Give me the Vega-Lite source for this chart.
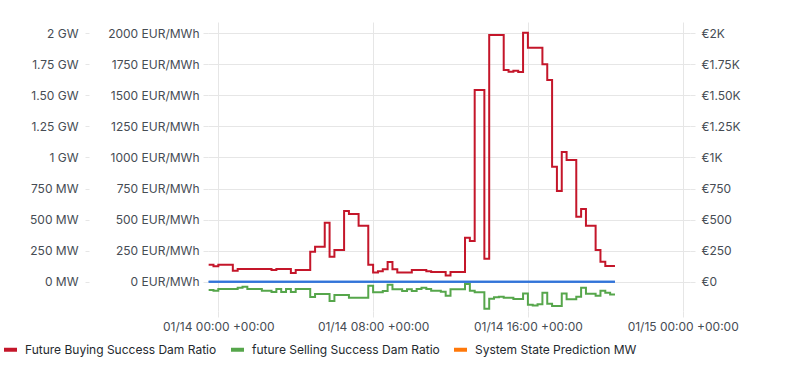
{
  "$schema": "https://vega.github.io/schema/vega-lite/v6.json",
  "width": 482,
  "height": 289,
  "autosize": {"type": "none"},
  "padding": {"left": 208, "top": 22, "right": 121, "bottom": 55},
  "background": "white",
  "config": {
    "font": "Inter",
    "view": {"stroke": null},
    "axis": {
      "labelFont": "Inter",
      "labelFontSize": 12,
      "labelColor": "#464c54",
      "domain": false,
      "tickColor": "#e6e6e6",
      "gridColor": "#e6e6e6",
      "title": null
    },
    "legend": {
      "labelFont": "Inter",
      "labelFontSize": 12,
      "labelColor": "#24292e",
      "labelLimit": 400,
      "symbolType": "stroke",
      "symbolStrokeWidth": 4,
      "symbolSize": 169,
      "labelOffset": 6,
      "columnPadding": 6,
      "padding": 0
    }
  },
  "datasets": {
    "series": [
      {"t": "2025-01-13T23:30:00Z", "v": 137, "s": "Future Buying Success Dam Ratio"},
      {"t": "2025-01-13T23:45:00Z", "v": 124, "s": "Future Buying Success Dam Ratio"},
      {"t": "2025-01-14T00:00:00Z", "v": 137, "s": "Future Buying Success Dam Ratio"},
      {"t": "2025-01-14T00:45:00Z", "v": 89, "s": "Future Buying Success Dam Ratio"},
      {"t": "2025-01-14T01:00:00Z", "v": 102, "s": "Future Buying Success Dam Ratio"},
      {"t": "2025-01-14T02:45:00Z", "v": 94, "s": "Future Buying Success Dam Ratio"},
      {"t": "2025-01-14T03:00:00Z", "v": 102, "s": "Future Buying Success Dam Ratio"},
      {"t": "2025-01-14T03:45:00Z", "v": 70, "s": "Future Buying Success Dam Ratio"},
      {"t": "2025-01-14T04:00:00Z", "v": 94, "s": "Future Buying Success Dam Ratio"},
      {"t": "2025-01-14T04:45:00Z", "v": 242, "s": "Future Buying Success Dam Ratio"},
      {"t": "2025-01-14T05:00:00Z", "v": 282, "s": "Future Buying Success Dam Ratio"},
      {"t": "2025-01-14T05:30:00Z", "v": 475, "s": "Future Buying Success Dam Ratio"},
      {"t": "2025-01-14T05:45:00Z", "v": 201, "s": "Future Buying Success Dam Ratio"},
      {"t": "2025-01-14T06:00:00Z", "v": 255, "s": "Future Buying Success Dam Ratio"},
      {"t": "2025-01-14T06:30:00Z", "v": 569, "s": "Future Buying Success Dam Ratio"},
      {"t": "2025-01-14T06:45:00Z", "v": 545, "s": "Future Buying Success Dam Ratio"},
      {"t": "2025-01-14T07:15:00Z", "v": 451, "s": "Future Buying Success Dam Ratio"},
      {"t": "2025-01-14T07:45:00Z", "v": 137, "s": "Future Buying Success Dam Ratio"},
      {"t": "2025-01-14T08:00:00Z", "v": 74, "s": "Future Buying Success Dam Ratio"},
      {"t": "2025-01-14T08:15:00Z", "v": 85, "s": "Future Buying Success Dam Ratio"},
      {"t": "2025-01-14T08:30:00Z", "v": 100, "s": "Future Buying Success Dam Ratio"},
      {"t": "2025-01-14T08:45:00Z", "v": 158, "s": "Future Buying Success Dam Ratio"},
      {"t": "2025-01-14T09:00:00Z", "v": 100, "s": "Future Buying Success Dam Ratio"},
      {"t": "2025-01-14T09:15:00Z", "v": 74, "s": "Future Buying Success Dam Ratio"},
      {"t": "2025-01-14T10:00:00Z", "v": 94, "s": "Future Buying Success Dam Ratio"},
      {"t": "2025-01-14T10:45:00Z", "v": 84, "s": "Future Buying Success Dam Ratio"},
      {"t": "2025-01-14T11:00:00Z", "v": 78, "s": "Future Buying Success Dam Ratio"},
      {"t": "2025-01-14T11:45:00Z", "v": 50, "s": "Future Buying Success Dam Ratio"},
      {"t": "2025-01-14T12:00:00Z", "v": 78, "s": "Future Buying Success Dam Ratio"},
      {"t": "2025-01-14T12:45:00Z", "v": 354, "s": "Future Buying Success Dam Ratio"},
      {"t": "2025-01-14T13:00:00Z", "v": 328, "s": "Future Buying Success Dam Ratio"},
      {"t": "2025-01-14T13:15:00Z", "v": 1543, "s": "Future Buying Success Dam Ratio"},
      {"t": "2025-01-14T13:45:00Z", "v": 185, "s": "Future Buying Success Dam Ratio"},
      {"t": "2025-01-14T14:00:00Z", "v": 1986, "s": "Future Buying Success Dam Ratio"},
      {"t": "2025-01-14T14:45:00Z", "v": 1704, "s": "Future Buying Success Dam Ratio"},
      {"t": "2025-01-14T15:00:00Z", "v": 1691, "s": "Future Buying Success Dam Ratio"},
      {"t": "2025-01-14T15:15:00Z", "v": 1699, "s": "Future Buying Success Dam Ratio"},
      {"t": "2025-01-14T15:30:00Z", "v": 1688, "s": "Future Buying Success Dam Ratio"},
      {"t": "2025-01-14T15:45:00Z", "v": 2005, "s": "Future Buying Success Dam Ratio"},
      {"t": "2025-01-14T16:00:00Z", "v": 1884, "s": "Future Buying Success Dam Ratio"},
      {"t": "2025-01-14T16:45:00Z", "v": 1750, "s": "Future Buying Success Dam Ratio"},
      {"t": "2025-01-14T17:00:00Z", "v": 1624, "s": "Future Buying Success Dam Ratio"},
      {"t": "2025-01-14T17:15:00Z", "v": 926, "s": "Future Buying Success Dam Ratio"},
      {"t": "2025-01-14T17:30:00Z", "v": 730, "s": "Future Buying Success Dam Ratio"},
      {"t": "2025-01-14T17:45:00Z", "v": 1044, "s": "Future Buying Success Dam Ratio"},
      {"t": "2025-01-14T18:00:00Z", "v": 980, "s": "Future Buying Success Dam Ratio"},
      {"t": "2025-01-14T18:30:00Z", "v": 523, "s": "Future Buying Success Dam Ratio"},
      {"t": "2025-01-14T18:45:00Z", "v": 585, "s": "Future Buying Success Dam Ratio"},
      {"t": "2025-01-14T19:00:00Z", "v": 451, "s": "Future Buying Success Dam Ratio"},
      {"t": "2025-01-14T19:30:00Z", "v": 255, "s": "Future Buying Success Dam Ratio"},
      {"t": "2025-01-14T19:45:00Z", "v": 161, "s": "Future Buying Success Dam Ratio"},
      {"t": "2025-01-14T20:00:00Z", "v": 126, "s": "Future Buying Success Dam Ratio"},
      {"t": "2025-01-14T20:30:00Z", "v": 126, "s": "Future Buying Success Dam Ratio"},
      {"t": "2025-01-13T23:30:00Z", "v": -67, "s": "future Selling Success Dam Ratio"},
      {"t": "2025-01-13T23:45:00Z", "v": -72, "s": "future Selling Success Dam Ratio"},
      {"t": "2025-01-14T00:00:00Z", "v": -59, "s": "future Selling Success Dam Ratio"},
      {"t": "2025-01-14T01:00:00Z", "v": -48, "s": "future Selling Success Dam Ratio"},
      {"t": "2025-01-14T01:15:00Z", "v": -40, "s": "future Selling Success Dam Ratio"},
      {"t": "2025-01-14T01:30:00Z", "v": -59, "s": "future Selling Success Dam Ratio"},
      {"t": "2025-01-14T02:15:00Z", "v": -72, "s": "future Selling Success Dam Ratio"},
      {"t": "2025-01-14T02:45:00Z", "v": -83, "s": "future Selling Success Dam Ratio"},
      {"t": "2025-01-14T03:00:00Z", "v": -59, "s": "future Selling Success Dam Ratio"},
      {"t": "2025-01-14T03:15:00Z", "v": -83, "s": "future Selling Success Dam Ratio"},
      {"t": "2025-01-14T03:30:00Z", "v": -59, "s": "future Selling Success Dam Ratio"},
      {"t": "2025-01-14T03:45:00Z", "v": -83, "s": "future Selling Success Dam Ratio"},
      {"t": "2025-01-14T04:00:00Z", "v": -59, "s": "future Selling Success Dam Ratio"},
      {"t": "2025-01-14T04:45:00Z", "v": -123, "s": "future Selling Success Dam Ratio"},
      {"t": "2025-01-14T05:00:00Z", "v": -99, "s": "future Selling Success Dam Ratio"},
      {"t": "2025-01-14T05:45:00Z", "v": -155, "s": "future Selling Success Dam Ratio"},
      {"t": "2025-01-14T06:00:00Z", "v": -107, "s": "future Selling Success Dam Ratio"},
      {"t": "2025-01-14T06:45:00Z", "v": -130, "s": "future Selling Success Dam Ratio"},
      {"t": "2025-01-14T07:45:00Z", "v": -33, "s": "future Selling Success Dam Ratio"},
      {"t": "2025-01-14T08:00:00Z", "v": -85, "s": "future Selling Success Dam Ratio"},
      {"t": "2025-01-14T08:30:00Z", "v": -75, "s": "future Selling Success Dam Ratio"},
      {"t": "2025-01-14T08:45:00Z", "v": -25, "s": "future Selling Success Dam Ratio"},
      {"t": "2025-01-14T09:00:00Z", "v": -61, "s": "future Selling Success Dam Ratio"},
      {"t": "2025-01-14T09:30:00Z", "v": -75, "s": "future Selling Success Dam Ratio"},
      {"t": "2025-01-14T09:45:00Z", "v": -61, "s": "future Selling Success Dam Ratio"},
      {"t": "2025-01-14T10:00:00Z", "v": -75, "s": "future Selling Success Dam Ratio"},
      {"t": "2025-01-14T10:15:00Z", "v": -59, "s": "future Selling Success Dam Ratio"},
      {"t": "2025-01-14T10:30:00Z", "v": -48, "s": "future Selling Success Dam Ratio"},
      {"t": "2025-01-14T10:45:00Z", "v": -59, "s": "future Selling Success Dam Ratio"},
      {"t": "2025-01-14T11:00:00Z", "v": -72, "s": "future Selling Success Dam Ratio"},
      {"t": "2025-01-14T11:30:00Z", "v": -80, "s": "future Selling Success Dam Ratio"},
      {"t": "2025-01-14T11:45:00Z", "v": -113, "s": "future Selling Success Dam Ratio"},
      {"t": "2025-01-14T12:00:00Z", "v": -60, "s": "future Selling Success Dam Ratio"},
      {"t": "2025-01-14T12:45:00Z", "v": -19, "s": "future Selling Success Dam Ratio"},
      {"t": "2025-01-14T13:00:00Z", "v": -72, "s": "future Selling Success Dam Ratio"},
      {"t": "2025-01-14T13:15:00Z", "v": -85, "s": "future Selling Success Dam Ratio"},
      {"t": "2025-01-14T13:45:00Z", "v": -217, "s": "future Selling Success Dam Ratio"},
      {"t": "2025-01-14T14:00:00Z", "v": -137, "s": "future Selling Success Dam Ratio"},
      {"t": "2025-01-14T14:15:00Z", "v": -126, "s": "future Selling Success Dam Ratio"},
      {"t": "2025-01-14T14:30:00Z", "v": -121, "s": "future Selling Success Dam Ratio"},
      {"t": "2025-01-14T14:45:00Z", "v": -129, "s": "future Selling Success Dam Ratio"},
      {"t": "2025-01-14T15:15:00Z", "v": -139, "s": "future Selling Success Dam Ratio"},
      {"t": "2025-01-14T15:45:00Z", "v": -96, "s": "future Selling Success Dam Ratio"},
      {"t": "2025-01-14T16:00:00Z", "v": -185, "s": "future Selling Success Dam Ratio"},
      {"t": "2025-01-14T16:15:00Z", "v": -192, "s": "future Selling Success Dam Ratio"},
      {"t": "2025-01-14T16:30:00Z", "v": -181, "s": "future Selling Success Dam Ratio"},
      {"t": "2025-01-14T16:45:00Z", "v": -89, "s": "future Selling Success Dam Ratio"},
      {"t": "2025-01-14T17:00:00Z", "v": -178, "s": "future Selling Success Dam Ratio"},
      {"t": "2025-01-14T17:15:00Z", "v": -195, "s": "future Selling Success Dam Ratio"},
      {"t": "2025-01-14T17:45:00Z", "v": -96, "s": "future Selling Success Dam Ratio"},
      {"t": "2025-01-14T18:00:00Z", "v": -142, "s": "future Selling Success Dam Ratio"},
      {"t": "2025-01-14T18:30:00Z", "v": -121, "s": "future Selling Success Dam Ratio"},
      {"t": "2025-01-14T18:45:00Z", "v": -48, "s": "future Selling Success Dam Ratio"},
      {"t": "2025-01-14T19:00:00Z", "v": -98, "s": "future Selling Success Dam Ratio"},
      {"t": "2025-01-14T19:30:00Z", "v": -114, "s": "future Selling Success Dam Ratio"},
      {"t": "2025-01-14T19:45:00Z", "v": -72, "s": "future Selling Success Dam Ratio"},
      {"t": "2025-01-14T20:00:00Z", "v": -89, "s": "future Selling Success Dam Ratio"},
      {"t": "2025-01-14T20:15:00Z", "v": -104, "s": "future Selling Success Dam Ratio"},
      {"t": "2025-01-14T20:30:00Z", "v": -104, "s": "future Selling Success Dam Ratio"}
    ],
    "zero": [
      {"t": "2025-01-13T23:30:00Z", "v": 0},
      {"t": "2025-01-14T20:30:00Z", "v": 0}
    ]
  },
  "encoding": {
    "x": {
      "field": "t",
      "type": "temporal",
      "scale": {"type": "utc", "domain": [1736810880000, 1736900560000]},
      "axis": {
        "values": [1736812800000, 1736841600000, 1736870400000, 1736899200000],
        "format": "%m/%d %H:%M +00:00",
        "grid": true,
        "tickSize": 6,
        "labelPadding": 4,
        "labelOverlap": false,
        "labelFlush": false
      }
    }
  },
  "layer": [
    {
      "data": {"name": "series"},
      "mark": {"type": "line", "interpolate": "step-after", "strokeWidth": 2, "clip": true},
      "encoding": {
        "y": {
          "field": "v",
          "type": "quantitative",
          "scale": {"domain": [-236, 2091], "nice": false, "zero": false},
          "axis": {
            "orient": "left",
            "values": [0, 250, 500, 750, 1000, 1250, 1500, 1750, 2000],
            "labelExpr": "datum.value + ' EUR/MWh'",
            "grid": true,
            "tickSize": 5,
            "labelPadding": 4
          }
        },
        "color": {
          "field": "s",
          "type": "nominal",
          "scale": {
            "domain": ["Future Buying Success Dam Ratio", "future Selling Success Dam Ratio", "System State Prediction MW"],
            "range": ["#c4162a", "#56a64b", "#ff780a"]
          },
          "legend": {
            "title": null,
            "orient": "none",
            "direction": "horizontal",
            "legendX": -206,
            "legendY": 319
          }
        }
      }
    },
    {
      "data": {"name": "zero"},
      "mark": {"type": "line", "interpolate": "step-after", "strokeWidth": 2, "color": "#3274d9", "clip": true},
      "encoding": {
        "y": {
          "field": "v",
          "type": "quantitative",
          "axis": {
            "orient": "left",
            "offset": 119,
            "values": [0, 250, 500, 750, 1000, 1250, 1500, 1750, 2000],
            "labelExpr": "datum.value < 1000 ? datum.value + ' MW' : (datum.value % 1000 == 0 ? (datum.value / 1000) + ' GW' : format(datum.value / 1000, '.2f') + ' GW')",
            "grid": false,
            "tickSize": 4,
            "labelPadding": 7
          }
        }
      }
    },
    {
      "data": {"name": "zero"},
      "mark": {"type": "line", "interpolate": "step-after", "strokeWidth": 2, "color": "#3274d9", "clip": true},
      "encoding": {
        "y": {
          "field": "v",
          "type": "quantitative",
          "axis": {
            "orient": "right",
            "values": [0, 250, 500, 750, 1000, 1250, 1500, 1750, 2000],
            "labelExpr": "datum.value < 1000 ? '€' + datum.value : (datum.value % 1000 == 0 ? '€' + (datum.value / 1000) + 'K' : '€' + format(datum.value / 1000, '.2f') + 'K')",
            "grid": false,
            "tickSize": 5,
            "labelPadding": 6
          }
        }
      }
    }
  ],
  "resolve": {"axis": {"y": "independent"}}
}
